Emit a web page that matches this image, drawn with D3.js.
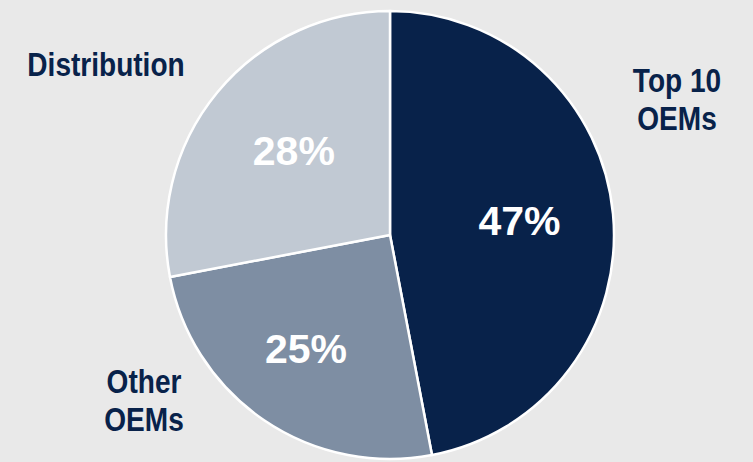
<!DOCTYPE html>
<html>
<head>
<meta charset="utf-8">
<script src="https://cdn.jsdelivr.net/npm/d3@7"></script>
<style>
html,body{margin:0;padding:0;background:#e9e9e9;}
svg{display:block;}
</style>
</head>
<body>
<svg id="chart" width="753" height="462"></svg>
<script>
const categories = ["Top 10 OEMs", "Other OEMs", "Distribution"];
const labelLines = [["Top 10", "OEMs"], ["Other", "OEMs"], ["Distribution"]];
const values = [47, 25, 28];
const colors = ["#08224a", "#7e8ea3", "#c1c9d3"];

const W = 753, H = 462;
const cx = 390, cy = 235, R = 224;
const svg = d3.select("#chart");
svg.append("rect").attr("width", W).attr("height", H).attr("fill", "#e9e9e9");

const pie = d3.pie().sort(null).value(d => d)(values);
const arc = d3.arc().innerRadius(0).outerRadius(R);
const labelArc = d3.arc().innerRadius(130).outerRadius(130);

const g = svg.append("g").attr("transform", `translate(${cx},${cy})`);
g.selectAll("path").data(pie).enter().append("path")
  .attr("d", arc)
  .attr("fill", (d, i) => colors[i])
  .attr("stroke", "#ffffff")
  .attr("stroke-width", 2.5)
  .attr("stroke-linejoin", "round");

const pctNudge = [[0, -3], [-11, 6], [4, -2]];
g.selectAll("text.pct").data(pie).enter().append("text")
  .attr("class", "pct")
  .attr("transform", (d, i) => {
    const c = labelArc.centroid(d);
    return `translate(${c[0] + pctNudge[i][0]},${c[1] + pctNudge[i][1]})`;
  })
  .attr("text-anchor", "middle")
  .attr("dy", "0.36em")
  .attr("font-family", "Liberation Sans, Arial, sans-serif")
  .attr("font-weight", "bold")
  .attr("font-size", 41)
  .attr("fill", "#ffffff")
  .text(d => d.value + "%");

// outside category labels (positions in page coords)
const outPos = [[677, 92], [144, 393], [106, 76]];
const lineGap = 38;
labelLines.forEach((lines, i) => {
  const t = svg.append("text")
    .attr("transform", `translate(${outPos[i][0]},${outPos[i][1]}) scale(0.85,1)`)
    .attr("text-anchor", "middle")
    .attr("font-family", "Liberation Sans, Arial, sans-serif")
    .attr("font-weight", "bold")
    .attr("font-size", 33)
    .attr("fill", "#08224a");
  lines.forEach((ln, j) => {
    t.append("tspan").attr("x", 0).attr("y", j * lineGap).text(ln);
  });
});
</script>
</body>
</html>
